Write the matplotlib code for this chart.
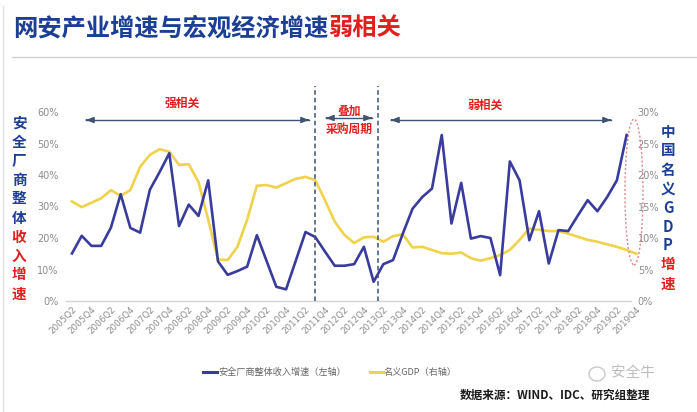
import matplotlib
matplotlib.use("Agg")
import matplotlib.pyplot as plt
import matplotlib.transforms as mtransforms
from matplotlib.lines import Line2D
from matplotlib.patches import Ellipse
from matplotlib.ticker import PercentFormatter

plt.rcParams['font.family'] = ['Noto Sans CJK SC', 'DejaVu Sans']

# ---- data -------------------------------------------------------------
quarters = [f"{y}Q{q}" for y in range(2005, 2020) for q in range(1, 5)][1:]  # 2005Q2 .. 2019Q4

# security vendors' overall revenue growth, % (left axis), 2005Q2 .. 2019Q3
revenue_growth = [
    15.1, 20.7, 17.5, 17.5, 23.3, 33.9, 23.2, 21.7, 35.3, 40.9,
    46.9, 23.8, 30.6, 27.0, 38.3, 12.6, 8.3, 9.5, 10.9, 20.9,
    12.7, 4.5, 3.7, 12.8, 21.9, 20.3, 15.7, 11.2, 11.2, 11.7,
    17.2, 6.1, 11.7, 13.0, 21.4, 29.3, 33.0, 35.7, 52.7, 24.6,
    37.5, 19.8, 20.6, 20.0, 8.2, 44.3, 38.3, 19.3, 28.5, 11.9,
    22.5, 22.2, 27.2, 32.0, 28.5, 33.0, 38.3, 52.7,
]

# China nominal GDP growth, % (right axis), 2005Q2 .. 2019Q4
gdp_growth = [
    15.8, 14.9, 15.6, 16.3, 17.6, 16.7, 17.6, 21.3, 23.2, 24.1,
    23.7, 21.6, 21.7, 18.9, 12.9, 6.6, 6.5, 8.6, 12.9, 18.3,
    18.4, 18.0, 18.7, 19.4, 19.7, 19.2, 16.0, 12.6, 10.5, 9.2,
    10.1, 10.2, 9.4, 10.3, 10.6, 8.5, 8.6, 8.1, 7.6, 7.5,
    7.7, 6.8, 6.4, 6.8, 7.3, 8.1, 9.7, 11.5, 11.3, 11.1,
    11.1, 10.7, 10.2, 9.7, 9.4, 9.0, 8.6, 8.1, 7.5,
]

# regime boundaries (quarter positions)
regime_breaks = [25, 31.5]

left_ticks = [0, 10, 20, 30, 40, 50, 60]
right_ticks = [0, 5, 10, 15, 20, 25, 30]

# ---- styling ----------------------------------------------------------
W, H = 697, 412
BLUE_LINE = "#393C9C"
YELLOW_LINE = "#F0D24C"
TITLE_BLUE = "#1C3F95"
RED = "#E0201E"
ARROW = "#3E5472"
TICK_GREY = "#8C8C8C"


def fx(x):
    return x / W


def fy(y):
    return 1 - y / H


fig = plt.figure(figsize=(W / 100, H / 100), dpi=100)
fig.patch.set_facecolor("white")

# plot area: quarter 0 sits at x=72px, 9.73px per quarter
x_left, x_right = -0.6, 58.0
px_per_q = 9.73
ax_l = 72 + x_left * px_per_q
ax_r = 72 + x_right * px_per_q
ax = fig.add_axes([fx(ax_l), fy(301), (ax_r - ax_l) / W, 189 / H])
ax2 = ax.twinx()

xs_rev = list(range(len(revenue_growth)))
xs_gdp = list(range(len(gdp_growth)))

ax2.plot(xs_gdp, gdp_growth, color=YELLOW_LINE, lw=1.9, solid_joinstyle="round",
         clip_on=False, zorder=2)
ax.plot(xs_rev, revenue_growth, color=BLUE_LINE, lw=1.9, solid_joinstyle="round",
        clip_on=False, zorder=3)
ax.set_zorder(ax2.get_zorder() + 1)
ax.patch.set_visible(False)

ax.set_xlim(x_left, x_right)
ax.set_ylim(0, 60)
ax2.set_ylim(0, 30)

ax.set_yticks(left_ticks)
ax2.set_yticks(right_ticks)
ax.yaxis.set_major_formatter(PercentFormatter(decimals=0))
ax2.yaxis.set_major_formatter(PercentFormatter(decimals=0))

ax.set_xticks(xs_gdp[::2])
ax.set_xticklabels(quarters[::2], rotation=45, ha="right", va="top",
                   rotation_mode="anchor", fontsize=6.3, color=TICK_GREY,
                   family="DejaVu Sans")
ax.tick_params(axis="x", length=0, pad=3)
ax.tick_params(axis="y", length=0, pad=5.5, labelsize=7, labelcolor=TICK_GREY)
ax2.tick_params(axis="y", length=0, pad=1, labelsize=7, labelcolor=TICK_GREY)
for lab in ax.get_yticklabels() + ax2.get_yticklabels():
    lab.set_family("DejaVu Sans")

for a in (ax, ax2):
    for side in ("top", "left", "right", "bottom"):
        a.spines[side].set_visible(False)
ax.spines["bottom"].set_visible(True)
ax.spines["bottom"].set_color("#D4D4D4")
ax.spines["bottom"].set_linewidth(1.0)
ax.spines["bottom"].set_bounds(x_left, 57.4)

# dashed regime separators
trans = mtransforms.blended_transform_factory(ax.transData, ax.transAxes)
top_frac = (301 - 86) / 189
for xb in regime_breaks:
    ax.plot([xb, xb], [0, top_frac], transform=trans, color="#3A5275",
            lw=1.1, ls=(0, (3, 2)), clip_on=False, zorder=4)

# ---- regime arrows and labels -----------------------------------------
def harrow(x0, x1, y):
    fig.add_artist(Line2D([fx(x0), fx(x1)], [fy(y), fy(y)], color=ARROW, lw=1.0))
    for xa, dx in ((x0, 0.001), (x1, -0.001)):
        ax.annotate("", xy=(fx(xa), fy(y)), xytext=(fx(xa) + dx, fy(y)),
                    xycoords="figure fraction", textcoords="figure fraction",
                    arrowprops=dict(arrowstyle="-|>,head_length=0.45,head_width=0.18",
                                    color=ARROW, lw=1.0, shrinkA=0, shrinkB=0),
                    annotation_clip=False)


harrow(86, 309, 120)
harrow(326, 372, 118)
harrow(391, 611, 120)

fig.text(fx(182), fy(103), "强相关", color=RED, fontsize=8.5, fontweight="bold",
         ha="center", va="center")
fig.text(fx(349), fy(111), "叠加", color=RED, fontsize=8.5, fontweight="bold",
         ha="center", va="center")
fig.text(fx(349), fy(129), "采购周期", color=RED, fontsize=8.5, fontweight="bold",
         ha="center", va="center")
fig.text(fx(485), fy(105), "弱相关", color=RED, fontsize=8.5, fontweight="bold",
         ha="center", va="center")

# highlight of the latest quarters
fig.add_artist(Ellipse((fx(634), fy(192)), width=18 / W, height=146 / H,
                       transform=fig.transFigure, fill=False, ec="#D98A8A",
                       lw=1.0, ls=(0, (1.5, 1.5))))

# ---- title ------------------------------------------------------------
t1 = fig.text(fx(13), fy(28), "网安产业增速与宏观经济增速", color=TITLE_BLUE,
              fontsize=17.5, fontweight="bold", ha="left", va="center")
ax.annotate("弱相关", xy=(1, 0), xycoords=t1, ha="left", va="bottom",
            color=RED, fontsize=17.5, fontweight="bold", annotation_clip=False)
fig.add_artist(Line2D([fx(12), 1], [fy(57), fy(57)], color="#D0D0D0", lw=1.0))
fig.add_artist(Line2D([fx(3), fx(3)], [fy(6), 0], color="#E2E2E2", lw=1.0))

# ---- vertical axis titles ---------------------------------------------
left_title = [("安", TITLE_BLUE), ("全", TITLE_BLUE), ("厂", TITLE_BLUE),
              ("商", TITLE_BLUE), ("整", TITLE_BLUE), ("体", TITLE_BLUE),
              ("收", RED), ("入", RED), ("增", RED), ("速", RED)]
for i, (ch, col) in enumerate(left_title):
    fig.text(fx(19), fy(122.5 + 19 * i), ch, color=col, fontsize=10.5,
             fontweight="bold", ha="center", va="center")

right_title = [("中", TITLE_BLUE), ("国", TITLE_BLUE), ("名", TITLE_BLUE),
               ("义", TITLE_BLUE), ("G", TITLE_BLUE), ("D", TITLE_BLUE),
               ("P", TITLE_BLUE), ("增", RED), ("速", RED)]
for i, (ch, col) in enumerate(right_title):
    fig.text(fx(668), fy(131.5 + 19 * i), ch, color=col, fontsize=10.5,
             fontweight="bold", ha="center", va="center")

# ---- legend -----------------------------------------------------------
fig.add_artist(Line2D([fx(203), fx(217)], [fy(372), fy(372)], color=BLUE_LINE, lw=2.2))
fig.text(fx(218), fy(372), "安全厂商整体收入增速（左轴）", color="#666666",
         fontsize=6.6, ha="left", va="center")
fig.add_artist(Line2D([fx(370), fx(383)], [fy(372), fy(372)], color=YELLOW_LINE, lw=2.2))
fig.text(fx(384), fy(372), "名义GDP（右轴）", color="#666666",
         fontsize=6.6, ha="left", va="center")

# ---- source note and watermark ----------------------------------------
fig.add_artist(Ellipse((fx(597), fy(374)), width=16 / W, height=14 / H,
                       transform=fig.transFigure, fill=False, ec="#C8C8C8", lw=1.0))
fig.text(fx(611), fy(373), "安全牛", color="#BDBDBD", fontsize=10.5,
         ha="left", va="center")
fig.text(fx(460), fy(395), "数据来源：WIND、IDC、研究组整理", color="#1A1A1A",
         fontsize=8.4, fontweight="bold", ha="left", va="center")

fig.savefig("out.png", dpi=100, facecolor="white")
